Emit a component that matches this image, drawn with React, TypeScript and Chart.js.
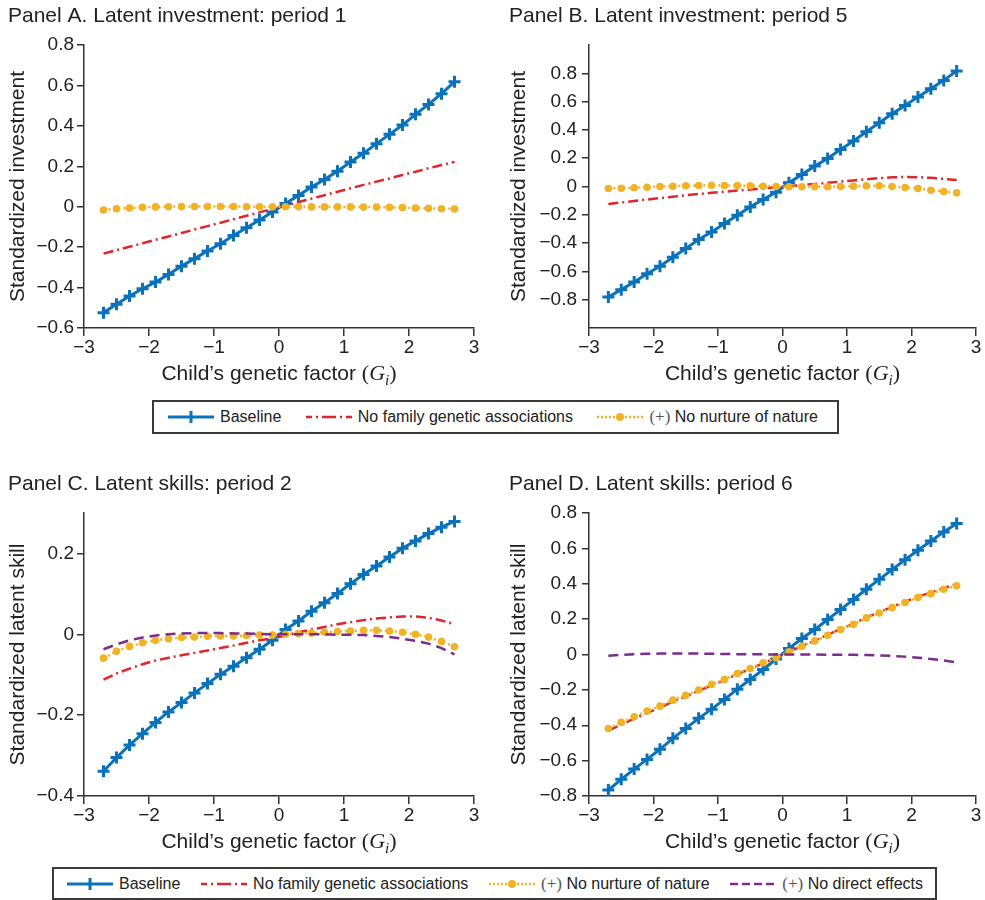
import React, { useEffect, useRef } from 'react';
import { Chart, registerables } from 'chart.js';

Chart.register(...registerables);

// ---------- DATA ----------
const xs = [-2.7, -2.5, -2.3, -2.1, -1.9, -1.7, -1.5, -1.3, -1.1, -0.9, -0.7, -0.5, -0.3, -0.1,
  0.1, 0.3, 0.5, 0.7, 0.9, 1.1, 1.3, 1.5, 1.7, 1.9, 2.1, 2.3, 2.5, 2.7];

const xTicks = [-3, -2, -1, 0, 1, 2, 3];

// Panel A. Latent investment: period 1
const baseA = [-0.524, -0.483, -0.442, -0.406, -0.373, -0.335, -0.294, -0.257, -0.219, -0.183, -0.142, -0.104, -0.066, -0.026,
  0.016, 0.056, 0.097, 0.135, 0.176, 0.221, 0.264, 0.312, 0.358, 0.404, 0.457, 0.506, 0.559, 0.618];
const redA = [-0.232, -0.215, -0.198, -0.181, -0.164, -0.147, -0.130, -0.113, -0.096, -0.079, -0.062, -0.045, -0.028, -0.011,
  0.006, 0.023, 0.040, 0.057, 0.074, 0.091, 0.108, 0.124, 0.140, 0.157, 0.173, 0.190, 0.206, 0.222];
const orangeA = [-0.016, -0.010, -0.006, -0.003, -0.001, 0.000, 0.001, 0.001, 0.001, 0.001, 0.001, 0.000, 0.000, 0.000,
  0.000, 0.000, -0.001, -0.001, -0.001, -0.001, -0.002, -0.002, -0.003, -0.004, -0.006, -0.008, -0.010, -0.011];
const yTicksA = [-0.6, -0.4, -0.2, 0, 0.2, 0.4, 0.6, 0.8];

// Panel B. Latent investment: period 5
const baseB = [-0.781, -0.729, -0.675, -0.616, -0.564, -0.500, -0.439, -0.375, -0.321, -0.262, -0.203, -0.144, -0.092, -0.040,
  0.026, 0.085, 0.144, 0.198, 0.262, 0.321, 0.387, 0.451, 0.514, 0.573, 0.632, 0.691, 0.750, 0.817];
const redB = [-0.123, -0.113, -0.103, -0.092, -0.082, -0.072, -0.062, -0.053, -0.045, -0.037, -0.029, -0.021, -0.014, -0.006,
  0.002, 0.010, 0.018, 0.026, 0.035, 0.043, 0.051, 0.059, 0.065, 0.067, 0.066, 0.061, 0.054, 0.046];
const orangeB = [-0.014, -0.012, -0.009, -0.005, 0.000, 0.002, 0.005, 0.007, 0.009, 0.007, 0.007, 0.005, 0.002, 0.000,
  -0.002, -0.002, -0.002, -0.002, 0.000, 0.002, 0.005, 0.005, 0.000, -0.007, -0.014, -0.026, -0.035, -0.045];
const yTicksB = [-0.8, -0.6, -0.4, -0.2, 0, 0.2, 0.4, 0.6, 0.8];

// Panel C. Latent skills: period 2
const baseC = [-0.339, -0.305, -0.274, -0.246, -0.218, -0.192, -0.169, -0.145, -0.122, -0.099, -0.079, -0.058, -0.037, -0.015,
  0.012, 0.033, 0.057, 0.078, 0.101, 0.125, 0.148, 0.169, 0.191, 0.213, 0.231, 0.249, 0.265, 0.279];
const redC = [-0.112, -0.097, -0.085, -0.074, -0.065, -0.058, -0.052, -0.046, -0.040, -0.034, -0.028, -0.021, -0.015, -0.010,
  -0.003, 0.005, 0.012, 0.018, 0.025, 0.030, 0.035, 0.039, 0.042, 0.044, 0.044, 0.041, 0.034, 0.025];
const orangeC = [-0.059, -0.042, -0.030, -0.021, -0.015, -0.011, -0.008, -0.007, -0.005, -0.004, -0.004, -0.003, -0.002, -0.002,
  0.000, 0.002, 0.003, 0.005, 0.007, 0.008, 0.010, 0.010, 0.008, 0.005, 0.000, -0.007, -0.018, -0.031];
const purpleC = [-0.037, -0.025, -0.015, -0.008, -0.003, 0.000, 0.002, 0.003, 0.003, 0.003, 0.002, 0.002, 0.001, 0.000,
  0.000, 0.000, 0.000, 0.000, -0.001, -0.001, -0.002, -0.004, -0.007, -0.011, -0.016, -0.023, -0.034, -0.050];
const yTicksC = [-0.4, -0.2, 0, 0.2];

// Panel D. Latent skills: period 6
const baseD = [-0.766, -0.706, -0.648, -0.593, -0.536, -0.474, -0.418, -0.361, -0.309, -0.254, -0.196, -0.141, -0.085, -0.026,
  0.034, 0.090, 0.141, 0.198, 0.254, 0.311, 0.369, 0.425, 0.480, 0.536, 0.589, 0.642, 0.693, 0.740];
const redD = [-0.430, -0.396, -0.362, -0.330, -0.300, -0.266, -0.236, -0.206, -0.174, -0.145, -0.111, -0.082, -0.049, -0.020,
  0.015, 0.048, 0.079, 0.111, 0.144, 0.174, 0.210, 0.239, 0.269, 0.299, 0.327, 0.350, 0.376, 0.398];
const orangeD = [-0.418, -0.384, -0.352, -0.320, -0.292, -0.258, -0.230, -0.201, -0.169, -0.141, -0.107, -0.079, -0.047, -0.019,
  0.015, 0.047, 0.077, 0.109, 0.141, 0.171, 0.207, 0.235, 0.265, 0.294, 0.322, 0.344, 0.369, 0.388];
const purpleD = [-0.007, -0.002, 0.002, 0.004, 0.005, 0.006, 0.006, 0.005, 0.004, 0.003, 0.002, 0.001, 0.001, 0.000,
  0.000, 0.000, 0.000, -0.001, -0.001, -0.002, -0.003, -0.005, -0.008, -0.012, -0.018, -0.025, -0.034, -0.045];
const yTicksD = [-0.8, -0.6, -0.4, -0.2, 0, 0.2, 0.4, 0.6, 0.8];

const panelTitles = [
  'Panel A. Latent investment: period 1',
  'Panel B. Latent investment: period 5',
  'Panel C. Latent skills: period 2',
  'Panel D. Latent skills: period 6',
];
const yTitles = ['Standardized investment', 'Standardized investment', 'Standardized latent skill', 'Standardized latent skill'];
const seriesNames = ['Baseline', 'No family genetic associations', 'No nurture of nature', 'No direct effects'];

// ---------- STYLE ----------
const SANS = '"Liberation Sans", Arial, Helvetica, sans-serif';
const SERIF = '"Liberation Serif", "Times New Roman", serif';
const TEXT = '#222';
const AXIS = '#333';
const BLUE = '#0a72ba';
const RED = '#e0262c';
const ORANGE = '#f1b325';
const PURPLE = '#7b2d8c';

Chart.defaults.font.family = SANS;

const fmt = (v: number) => (v < 0 ? '\u2212' : '') + String(Math.abs(v));

const xTitlePlugin = {
  id: 'xMathTitle',
  afterDraw(chart: any) {
    const { ctx, chartArea } = chart;
    const parts = [
      { t: 'Child\u2019s genetic factor ', f: `21px ${SANS}`, dy: 0 },
      { t: '(', f: `22px ${SERIF}`, dy: 0 },
      { t: 'G', f: `italic 22px ${SERIF}`, dy: 0 },
      { t: 'i', f: `italic 15px ${SERIF}`, dy: 5 },
      { t: ')', f: `22px ${SERIF}`, dy: 0 },
    ];
    ctx.save();
    let total = 0;
    const widths = parts.map((p) => {
      ctx.font = p.f;
      const w = ctx.measureText(p.t).width;
      total += w;
      return w;
    });
    let x = (chartArea.left + chartArea.right) / 2 - total / 2;
    const y = chartArea.bottom + 52;
    ctx.textBaseline = 'alphabetic';
    ctx.textAlign = 'left';
    ctx.fillStyle = TEXT;
    parts.forEach((p, i) => {
      ctx.font = p.f;
      ctx.fillText(p.t, x, y + p.dy);
      x += widths[i];
    });
    ctx.restore();
  },
};

type Series = { kind: 'base' | 'red' | 'orange' | 'purple'; values: number[] };

function datasetFor(s: Series) {
  const data = xs.map((x, i) => ({ x, y: s.values[i] }));
  if (s.kind === 'base') {
    return {
      label: seriesNames[0], data, borderColor: BLUE, borderWidth: 3, pointStyle: 'cross',
      pointRadius: 6, pointBorderWidth: 3, pointBorderColor: BLUE, order: 4,
    };
  }
  if (s.kind === 'red') {
    return {
      label: seriesNames[1], data, borderColor: RED, borderWidth: 2.5, borderDash: [10, 4, 2, 4],
      pointRadius: 0, order: 3,
    };
  }
  if (s.kind === 'orange') {
    return {
      label: seriesNames[2], data, borderColor: ORANGE, borderWidth: 2.5, borderDash: [2, 3],
      pointRadius: 3.8, pointStyle: 'circle', pointBackgroundColor: ORANGE, pointBorderWidth: 0, order: 2,
    };
  }
  return {
    label: seriesNames[3], data, borderColor: PURPLE, borderWidth: 2.5, borderDash: [10, 6],
    pointRadius: 0, order: 1,
  };
}

type PanelSpec = {
  title: string; yTitle: string; series: Series[]; yMin: number; yMax: number; yTicks: number[];
  left: number; top: number; w: number; h: number; yWidth: number; padRight: number; yTickPad: number;
};

function buildConfig(p: PanelSpec): any {
  return {
    type: 'line',
    data: { datasets: p.series.map(datasetFor) },
    options: {
      animation: false,
      responsive: false,
      maintainAspectRatio: false,
      layout: { padding: { left: 8, right: p.padRight, top: 0, bottom: 0 } },
      plugins: {
        legend: { display: false },
        tooltip: { enabled: false },
        title: {
          display: true, text: p.title, align: 'start', color: TEXT,
          font: { size: 21, weight: 'normal', family: SANS, lineHeight: 1.2 },
          padding: { top: 4, bottom: 15.8 },
        },
      },
      scales: {
        x: {
          type: 'linear', min: -3, max: 3,
          afterBuildTicks: (axis: any) => { axis.ticks = xTicks.map((v) => ({ value: v })); },
          afterFit: (s: any) => { s.height = 62; },
          ticks: { callback: (v: number) => fmt(v), color: TEXT, font: { size: 19, lineHeight: 1 }, padding: 2, maxRotation: 0 },
          grid: { drawOnChartArea: false, drawTicks: true, tickLength: 8, color: AXIS, lineWidth: 1.5 },
          border: { display: true, color: AXIS, width: 1.5 },
        },
        y: {
          type: 'linear', min: p.yMin, max: p.yMax,
          afterBuildTicks: (axis: any) => { axis.ticks = p.yTicks.map((v) => ({ value: v })); },
          afterFit: (s: any) => { s.width = p.yWidth; },
          ticks: { callback: (v: number) => fmt(v), color: TEXT, font: { size: 19 }, padding: p.yTickPad },
          grid: { drawOnChartArea: false, drawTicks: true, tickLength: 7, color: AXIS, lineWidth: 1.5 },
          border: { display: true, color: AXIS, width: 1.5 },
          title: {
            display: true, text: p.yTitle, color: TEXT,
            font: { size: 21, family: SANS, lineHeight: 1 }, padding: { top: 0, bottom: 0 },
          },
        },
      },
    },
    plugins: [xTitlePlugin],
  };
}

const panels: PanelSpec[] = [
  {
    title: panelTitles[0], yTitle: yTitles[0], yMin: -0.6, yMax: 0.8, yTicks: yTicksA,
    series: [{ kind: 'base', values: baseA }, { kind: 'red', values: redA }, { kind: 'orange', values: orangeA }],
    left: 0, top: 0, w: 490, h: 390, yWidth: 76, padRight: 16, yTickPad: 3,
  },
  {
    title: panelTitles[1], yTitle: yTitles[1], yMin: -1, yMax: 1, yTicks: yTicksB,
    series: [{ kind: 'base', values: baseB }, { kind: 'red', values: redB }, { kind: 'orange', values: orangeB }],
    left: 501, top: 0, w: 484, h: 390, yWidth: 80, padRight: 7, yTickPad: 5,
  },
  {
    title: panelTitles[2], yTitle: yTitles[2], yMin: -0.4, yMax: 0.3, yTicks: yTicksC,
    series: [{ kind: 'base', values: baseC }, { kind: 'red', values: redC }, { kind: 'orange', values: orangeC }, { kind: 'purple', values: purpleC }],
    left: 0, top: 468, w: 490, h: 390, yWidth: 76, padRight: 16, yTickPad: 3,
  },
  {
    title: panelTitles[3], yTitle: yTitles[3], yMin: -0.8, yMax: 0.8, yTicks: yTicksD,
    series: [{ kind: 'base', values: baseD }, { kind: 'red', values: redD }, { kind: 'orange', values: orangeD }, { kind: 'purple', values: purpleD }],
    left: 501, top: 468, w: 484, h: 390, yWidth: 80, padRight: 7, yTickPad: 5,
  },
];

function Panel({ spec }: { spec: PanelSpec }) {
  const ref = useRef<HTMLCanvasElement>(null);
  useEffect(() => {
    const chart = new Chart(ref.current as HTMLCanvasElement, buildConfig(spec));
    return () => chart.destroy();
  }, [spec]);
  return (
    <canvas
      ref={ref}
      width={spec.w}
      height={spec.h}
      style={{ position: 'absolute', left: spec.left, top: spec.top, width: spec.w, height: spec.h }}
    />
  );
}

function Sample({ kind }: { kind: Series['kind'] }) {
  const common = { x1: 0, y1: 8, x2: 46, y2: 8, strokeWidth: 2.5 } as any;
  return (
    <svg width={46} height={16} style={{ display: 'block', flex: '0 0 auto' }}>
      {kind === 'base' && (
        <>
          <line {...common} stroke={BLUE} strokeWidth={3} />
          <line x1={23} y1={2} x2={23} y2={14} stroke={BLUE} strokeWidth={3} />
        </>
      )}
      {kind === 'red' && <line {...common} stroke={RED} strokeDasharray="6 4 2 4 14 4 2 4 6" />}
      {kind === 'orange' && (
        <>
          <line {...common} stroke={ORANGE} strokeDasharray="2 2" />
          <circle cx={23} cy={8} r={4} fill={ORANGE} />
        </>
      )}
      {kind === 'purple' && <line {...common} stroke={PURPLE} strokeDasharray="8 4" />}
    </svg>
  );
}

function LegendItem({ kind }: { kind: Series['kind'] }) {
  const idx = ['base', 'red', 'orange', 'purple'].indexOf(kind);
  const plus = kind === 'orange' || kind === 'purple';
  return (
    <div style={{ display: 'flex', alignItems: 'center', whiteSpace: 'nowrap' }}>
      <Sample kind={kind} />
      <span style={{ marginLeft: 6 }}>
        {plus && <span style={{ fontFamily: SERIF, color: '#555', fontSize: 17 }}>(+)</span>}
        {plus ? ' ' : ''}
        {seriesNames[idx]}
      </span>
    </div>
  );
}

function Legend({ kinds, left, top, width, height, padL, padR }: any) {
  return (
    <div
      style={{
        position: 'absolute', left, top, width, height, boxSizing: 'border-box',
        border: '2px solid #3a3a3a', display: 'flex', alignItems: 'center', justifyContent: 'space-between',
        paddingLeft: padL, paddingRight: padR, fontFamily: SANS, fontSize: 16, color: TEXT,
      }}
    >
      {kinds.map((k: Series['kind']) => <LegendItem key={k} kind={k} />)}
    </div>
  );
}

export default function App() {
  return (
    <div style={{ position: 'absolute', left: 0, top: 0, width: 985, height: 900, background: '#fff', overflow: 'hidden' }}>
      {panels.map((p, i) => <Panel key={i} spec={p} />)}
      <Legend kinds={['base', 'red', 'orange']} left={152} top={400} width={687} height={34} padL={14} padR={19} />
      <Legend kinds={['base', 'red', 'orange', 'purple']} left={52} top={867} width={885} height={33} padL={13} padR={12} />
    </div>
  );
}
